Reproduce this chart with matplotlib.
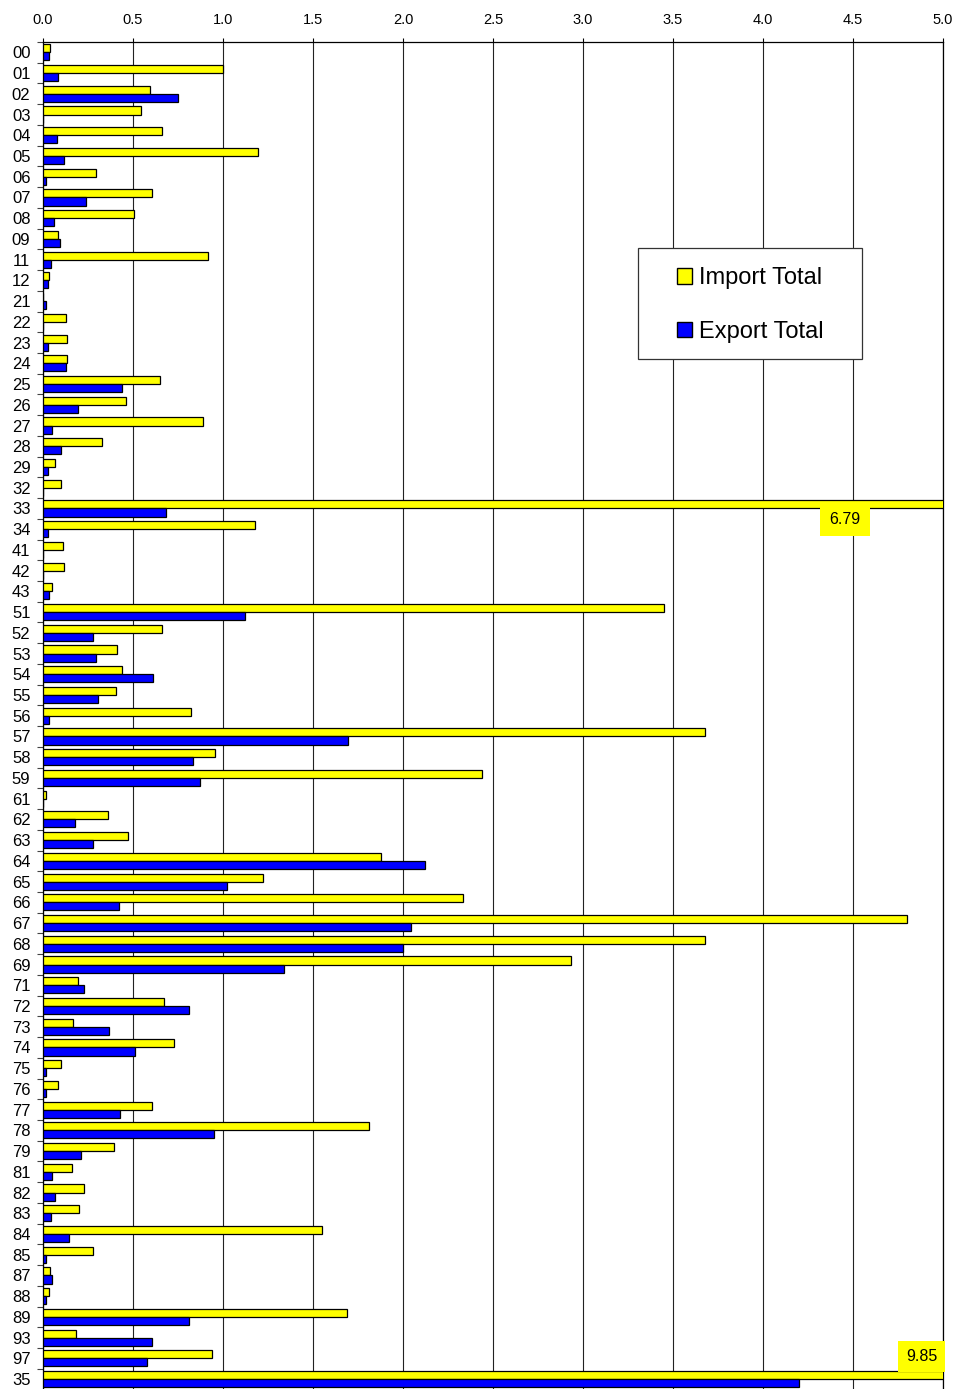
import matplotlib
matplotlib.use("Agg")
import matplotlib.pyplot as plt
from matplotlib.patches import Patch, Rectangle
import numpy as np

plt.rcParams['font.family'] = ['Liberation Sans', 'DejaVu Sans']

categories = ["00", "01", "02", "03", "04", "05", "06", "07", "08", "09",
              "11", "12", "21", "22", "23", "24", "25", "26", "27", "28",
              "29", "32", "33", "34", "41", "42", "43", "51", "52", "53",
              "54", "55", "56", "57", "58", "59", "61", "62", "63", "64",
              "65", "66", "67", "68", "69", "71", "72", "73", "74", "75",
              "76", "77", "78", "79", "81", "82", "83", "84", "85", "87",
              "88", "89", "93", "97", "35"]

import_total = [0.04, 1.00, 0.596, 0.546, 0.663, 1.192, 0.295, 0.607, 0.505, 0.085,
                0.917, 0.033, 0.0, 0.126, 0.135, 0.135, 0.648, 0.462, 0.889, 0.326,
                0.067, 0.10, 6.79, 1.175, 0.109, 0.119, 0.052, 3.45, 0.663, 0.41,
                0.438, 0.403, 0.822, 3.68, 0.956, 2.44, 0.016, 0.36, 0.471, 1.877,
                1.223, 2.334, 4.80, 3.677, 2.936, 0.193, 0.67, 0.167, 0.73, 0.10,
                0.082, 0.605, 1.81, 0.395, 0.16, 0.225, 0.201, 1.55, 0.277, 0.04,
                0.033, 1.69, 0.186, 0.939, 9.85]

export_total = [0.033, 0.085, 0.748, 0.0, 0.078, 0.119, 0.018, 0.237, 0.061, 0.093,
                0.042, 0.026, 0.018, 0.0, 0.026, 0.126, 0.438, 0.195, 0.052, 0.10,
                0.026, 0.0, 0.681, 0.026, 0.0, 0.0, 0.033, 1.124, 0.277, 0.295,
                0.613, 0.304, 0.033, 1.694, 0.832, 0.874, 0.0, 0.176, 0.277, 2.12,
                1.025, 0.421, 2.045, 2.00, 1.337, 0.228, 0.813, 0.369, 0.51, 0.016,
                0.016, 0.429, 0.95, 0.21, 0.052, 0.067, 0.042, 0.143, 0.016, 0.052,
                0.016, 0.813, 0.607, 0.579, 4.20]

xticks = [0.0, 0.5, 1.0, 1.5, 2.0, 2.5, 3.0, 3.5, 4.0, 4.5, 5.0]

W, H = 957, 1389
fig = plt.figure(figsize=(W / 100, H / 100), dpi=100)
left, right, top, bottom = 43, 943, 42, 1389.5
ax = fig.add_axes([left / W, 1 - bottom / H, (right - left) / W, (bottom - top) / H])

n = len(categories)
y = np.arange(n)
bh = 0.39
ax.barh(y - bh / 2, import_total, height=bh, color='#ffff00', edgecolor='black',
        linewidth=0.9, label='Import Total', zorder=3)
ax.barh(y + bh / 2, export_total, height=bh, color='#0000ff', edgecolor='black',
        linewidth=0.9, label='Export Total', zorder=3)

ax.set_xlim(0, 5.0)
ax.set_ylim(n - 0.5, -0.5)
ax.xaxis.tick_top()
ax.set_xticks(xticks)
ax.set_xticklabels([f"{v:.1f}" for v in xticks], fontsize=10.5)
ax.tick_params(axis='x', length=3, width=0.8, pad=8)
ax.set_yticks(y)
ax.set_yticklabels(categories, fontsize=12)
ax.tick_params(axis='y', length=0, pad=9)
ax.set_yticks(np.arange(n + 1) - 0.5, minor=True)
ax.tick_params(axis='y', which='minor', length=4, width=0.8, color='#444444')
ax.grid(axis='x', color='#222222', linewidth=0.8, zorder=0)
ax.spines['bottom'].set_visible(False)
for s in ['left', 'top', 'right']:
    ax.spines[s].set_linewidth(0.9)

# legend frame
frame = Rectangle((638 / W, 1 - 359 / H), 224 / W, 111 / H, transform=fig.transFigure,
                  facecolor='white', edgecolor='#333333', linewidth=0.9, zorder=10)
fig.patches.append(frame)

handles = [Patch(facecolor='#ffff00', edgecolor='black', label='Import Total'),
           Patch(facecolor='#0000ff', edgecolor='black', label='Export Total')]
leg = fig.legend(handles=handles, loc='center left',
                 bbox_to_anchor=(677 / W, 1 - 305 / H), fontsize=17,
                 frameon=False, handlelength=0.63, handleheight=0.63,
                 handletextpad=0.3, labelspacing=1.34, borderpad=0,
                 borderaxespad=0)
leg.set_zorder(11)

# data labels for bars beyond axis range
ax.text(4.455, 22.52, "6.79", fontsize=11.5, ha='center', va='center', zorder=5,
        bbox=dict(facecolor='#ffff00', edgecolor='none', boxstyle='square,pad=0.6'))
ax.text(4.88, 62.9, "9.85", fontsize=11.5, ha='center', va='center', zorder=5,
        bbox=dict(facecolor='#ffff00', edgecolor='none', boxstyle='square,pad=0.5'))

fig.savefig("out.png", dpi=100)
